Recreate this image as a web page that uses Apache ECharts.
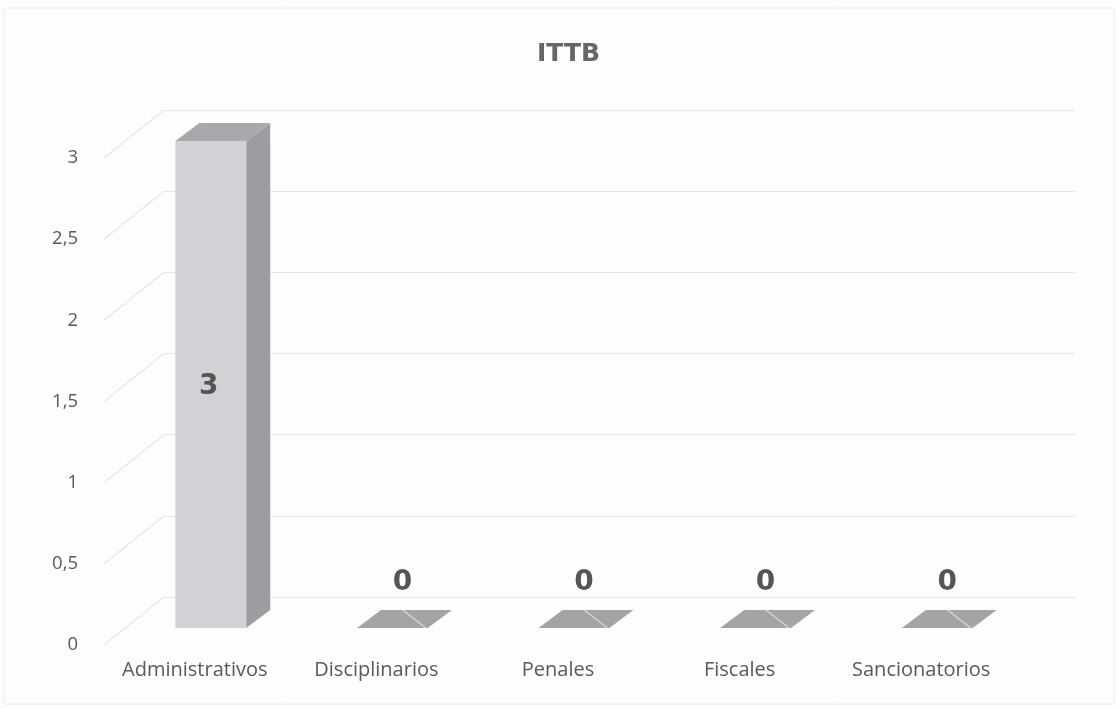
<!DOCTYPE html>
<html><head><meta charset="utf-8">
<script src="https://cdn.jsdelivr.net/npm/echarts@6/dist/echarts.min.js"></script>
<style>html,body{margin:0;padding:0;background:#fdfdfe}#c{width:1119px;height:708px}</style>
</head><body><div id="c"></div>
<script>
// ---- data ----
const chartTitle = 'ITTB';
const categories = ['Administrativos', 'Disciplinarios', 'Penales', 'Fiscales', 'Sancionatorios'];
const values = [3, 0, 0, 0, 0];
const yTicks = [0, 0.5, 1, 1.5, 2, 2.5, 3];

// ---- 3D look (pixel offsets, styling only) ----
const BAR_OFF = [16, -17];   // bar plane relative to front (label) plane
const DEPTH = [24, -18];     // bar depth
const WALL_OFF = [60, -48];  // back wall relative to front plane
const VAL_FONT = 'bold 28px "DejaVu Sans", sans-serif';

const fmt = v => String(v).replace('.', ',');

function renderBar(params, api) {
  const i = api.value(0), v = api.value(1);
  const base = api.coord([i, 0]);
  const top = api.coord([i, v]);
  const bw = api.size([1, 0])[0] * 0.39;
  const x0 = base[0] + BAR_OFF[0] - bw / 2, x1 = x0 + bw;
  const yb = base[1] + BAR_OFF[1], yt = top[1] + BAR_OFF[1];
  const dx = DEPTH[0], dy = DEPTH[1];
  const children = [];
  if (v > 0) {
    children.push({ type: 'polygon', shape: { points: [[x1, yb], [x1 + dx, yb + dy], [x1 + dx, yt + dy], [x1, yt]] }, style: { fill: '#9c9ca1' } });
    children.push({ type: 'rect', shape: { x: x0, y: yt, width: bw, height: yb - yt }, style: { fill: '#d2d2d6' } });
    children.push({ type: 'polygon', shape: { points: [[x0, yt], [x1, yt], [x1 + dx, yt + dy], [x0 + dx, yt + dy]] }, style: { fill: '#a8a8ad' } });
    children.push({ type: 'text', style: { text: fmt(v), x: (x0 + x1) / 2 - 2, y: (yb + yt) / 2 + 2, align: 'center', verticalAlign: 'middle', fill: '#555555', font: VAL_FONT } });
  } else {
    children.push({ type: 'polygon', shape: { points: [[x0, yb], [x1, yb], [x1 + dx, yb + dy], [x0 + dx, yb + dy]] }, style: { fill: '#a4a4a7' } });
    children.push({ type: 'line', shape: { x1: x1 - 2, y1: yb, x2: x1 - 25, y2: yb + dy }, style: { stroke: '#d6d6d8', lineWidth: 1.5 } });
    children.push({ type: 'text', style: { text: fmt(v), x: (x0 + x1) / 2 + 10, y: yb - 45, align: 'center', verticalAlign: 'middle', fill: '#555555', font: VAL_FONT } });
  }
  return { type: 'group', children };
}

function renderDiag(params, api) {
  const v = api.value(0);
  const cs = params.coordSys;
  const p = api.coord([0, v]);
  const x = cs.x, y = p[1];
  return { type: 'line', shape: { x1: x, y1: y, x2: x + WALL_OFF[0], y2: y + WALL_OFF[1] }, style: { stroke: '#e3e5ed', lineWidth: 1.2 } };
}

const chart = echarts.init(document.getElementById('c'));
chart.setOption({
  backgroundColor: '#fdfdfe',
  animation: false,
  title: {
    text: chartTitle, left: 532, top: 37,
    textStyle: { color: '#666666', fontSize: 25, fontWeight: 'bold', fontFamily: '"DejaVu Sans", sans-serif' }
  },
  graphic: [{ type: 'rect', shape: { x: 4, y: 8, width: 1110, height: 696 }, style: { fill: 'none', stroke: '#ececf0', lineWidth: 1 }, silent: true }],
  grid: [
    { left: 104, right: 107, top: 158, bottom: 63 },                 // front plane
    { left: 164, right: 44, top: 110, bottom: 111 }                  // back wall
  ],
  xAxis: [
    { type: 'category', gridIndex: 0, data: categories,
      axisLine: { show: false }, axisTick: { show: false },
      axisLabel: { interval: 0, margin: 15, color: '#595959', fontSize: 20, fontFamily: '"Open Sans", sans-serif' } },
    { type: 'category', gridIndex: 1, data: categories, show: false }
  ],
  yAxis: [
    { type: 'value', gridIndex: 0, min: 0, max: 3, interval: 0.5,
      axisLine: { show: false }, axisTick: { show: false }, splitLine: { show: false },
      axisLabel: { margin: 26, align: 'right', color: '#595959', fontSize: 18.5, fontFamily: '"Open Sans", sans-serif', formatter: fmt } },
    { type: 'value', gridIndex: 1, min: 0, max: 3, interval: 0.5,
      axisLine: { show: false }, axisTick: { show: false }, axisLabel: { show: false },
      splitLine: { show: true, lineStyle: { color: '#e3e5ed', width: 1.2 } } }
  ],
  series: [
    { type: 'custom', xAxisIndex: 0, yAxisIndex: 0, renderItem: renderDiag, data: yTicks.map(t => [t]), encode: { y: 0 }, silent: true, z: 1 },
    { type: 'custom', xAxisIndex: 0, yAxisIndex: 0, renderItem: renderBar, data: values.map((v, i) => [i, v]), encode: { x: 0, y: 1 }, z: 3 }
  ]
});
</script>
</body></html>
